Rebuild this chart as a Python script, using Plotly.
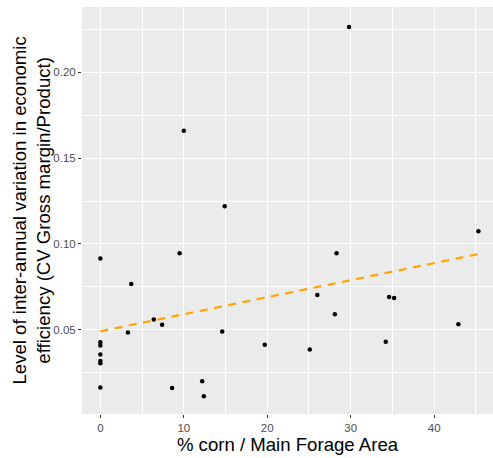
import numpy as np
import plotly.graph_objects as go

# % corn / Main Forage Area
corn_pct = [0, 0, 0, 0, 0, 0, 0,
            3.3, 3.7, 6.4, 7.4, 8.6, 9.5, 10.0, 12.2, 12.4, 14.6, 14.9, 19.7,
            25.1, 26.0, 28.1, 28.3, 29.8, 34.2, 34.6, 35.2, 42.9, 45.3]
# CV Gross margin / Product
cv_eff = [0.0915, 0.0428, 0.0409, 0.0356, 0.0318, 0.0306, 0.0165,
          0.0484, 0.0767, 0.0560, 0.0529, 0.0162, 0.0946, 0.1659, 0.0200, 0.0114, 0.0490, 0.1220, 0.0413,
          0.0386, 0.0703, 0.0591, 0.0946, 0.2263, 0.0430, 0.0691, 0.0685, 0.0533, 0.1074]

x_ticks = [0, 10, 20, 30, 40]
y_ticks = [0.05, 0.10, 0.15, 0.20]
y_tick_labels = ["0.05", "0.10", "0.15", "0.20"]

xa = np.array(corn_pct)
ya = np.array(cv_eff)
slope, intercept = np.polyfit(xa, ya, 1)
fit_x = np.linspace(xa.min(), xa.max(), 80)
fit_y = intercept + slope * fit_x

fig = go.Figure()
fig.add_trace(go.Scatter(x=corn_pct, y=cv_eff, mode="markers",
                         marker=dict(color="black", size=4.5), showlegend=False,
                         hoverinfo="skip"))
fig.add_trace(go.Scatter(x=fit_x, y=fit_y, mode="lines",
                         line=dict(color="orange", width=2.2, dash="8px,6.5px"),
                         showlegend=False, hoverinfo="skip"))

fig.update_layout(
    width=493, height=458,
    margin=dict(l=82, r=0, t=7, b=44),
    paper_bgcolor="white", plot_bgcolor="#EBEBEB",
    font=dict(family="Liberation Sans, Arial, sans-serif", color="black"),
    xaxis=dict(range=[-2.2, 47.05], tickvals=x_ticks, ticks="outside", ticklen=3,
               tickcolor="#333333", tickwidth=1.1,
               tickfont=dict(size=11.5, color="#4D4D4D"),
               showgrid=True, gridcolor="white", gridwidth=1.1, zeroline=False,
               minor=dict(dtick=10, tick0=5, showgrid=True, gridcolor="white", gridwidth=0.5),
               title=dict(text="% corn / Main Forage Area", font=dict(size=18.6), standoff=4),
               showline=False),
    yaxis=dict(range=[0.001, 0.238], tickvals=y_ticks, ticktext=y_tick_labels,
               ticks="outside", ticklen=3, tickcolor="#333333", tickwidth=1.1,
               tickfont=dict(size=11.5, color="#4D4D4D"),
               showgrid=True, gridcolor="white", gridwidth=1.1, zeroline=False,
               minor=dict(dtick=0.05, tick0=0.025, showgrid=True, gridcolor="white", gridwidth=0.5),
               showline=False),
    annotations=[dict(
        text="Level of inter-annual variation in economic<br>efficiency (CV Gross margin/Product)",
        textangle=-90, xref="paper", yref="paper", x=-0.124, y=0.5,
        xanchor="center", yanchor="middle", showarrow=False,
        font=dict(size=18.6, color="black"))],
)

fig.write_html("out.html", config={"displayModeBar": False},
               post_script="document.body.style.margin='0';")
